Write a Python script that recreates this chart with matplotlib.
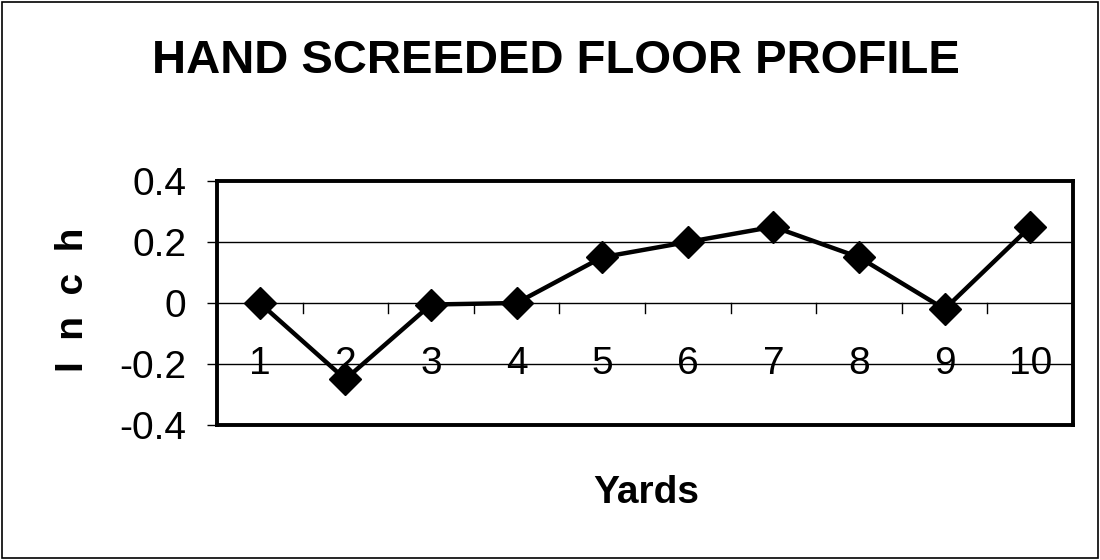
import numpy as np
from matplotlib import pyplot as plt
from matplotlib.patches import Rectangle

yards = [1, 2, 3, 4, 5, 6, 7, 8, 9, 10]
inch = [0.0, -0.25, -0.005, 0.0, 0.15, 0.20, 0.25, 0.15, -0.02, 0.25]
yticks = [-0.4, -0.2, 0.0, 0.2, 0.4]
yticklabels = ['-0.4', '-0.2', '0', '0.2', '0.4']

plt.rcParams['font.family'] = ['Liberation Sans', 'DejaVu Sans']

fig = plt.figure(figsize=(11, 5.6), dpi=100)
fig.patches.append(Rectangle((0.002, 0.003), 0.996, 0.994, transform=fig.transFigure,
                             fill=False, edgecolor='black', linewidth=1.2))

ax = fig.add_axes([217 / 1100, 1 - 425 / 560, (1073 - 217) / 1100, (425 - 181) / 560])
ax.set_xlim(0.5, 10.5)
ax.set_ylim(-0.4, 0.4)

# gridlines
for v in [-0.2, 0.2]:
    ax.axhline(v, color='black', linewidth=1.0, zorder=1)
ax.axhline(0, color='black', linewidth=1.0, zorder=1)

# category ticks on the zero line
for b in np.arange(1.5, 10.5, 1.0):
    ax.plot([b, b], [0, -0.033], color='black', linewidth=1.0, zorder=1)

ax.plot(yards, inch, color='black', linewidth=3.2, marker='D', markersize=16,
        zorder=3)

for x in yards:
    ax.text(x, -0.2, str(x), ha='center', va='center', fontsize=28, zorder=2)

ax.set_xticks([])
ax.set_yticks(yticks)
ax.set_yticklabels(yticklabels, fontsize=28)
ax.tick_params(axis='y', direction='out', length=7, width=1.0, pad=15)
for s in ax.spines.values():
    s.set_linewidth(2.8)

fig.text(73 / 1100, 1 - 300 / 560, 'I  n  c  h', rotation=90, ha='center',
         va='center', fontsize=28, fontweight='bold')
fig.text(646 / 1100, 1 - 503 / 560, 'Yards', ha='center', va='baseline',
         fontsize=28, fontweight='bold')
fig.text(556 / 1100, 1 - 73 / 560, 'HAND SCREEDED FLOOR PROFILE',
         ha='center', va='baseline', fontsize=34, fontweight='bold')

plt.savefig('out.png', dpi=100)
